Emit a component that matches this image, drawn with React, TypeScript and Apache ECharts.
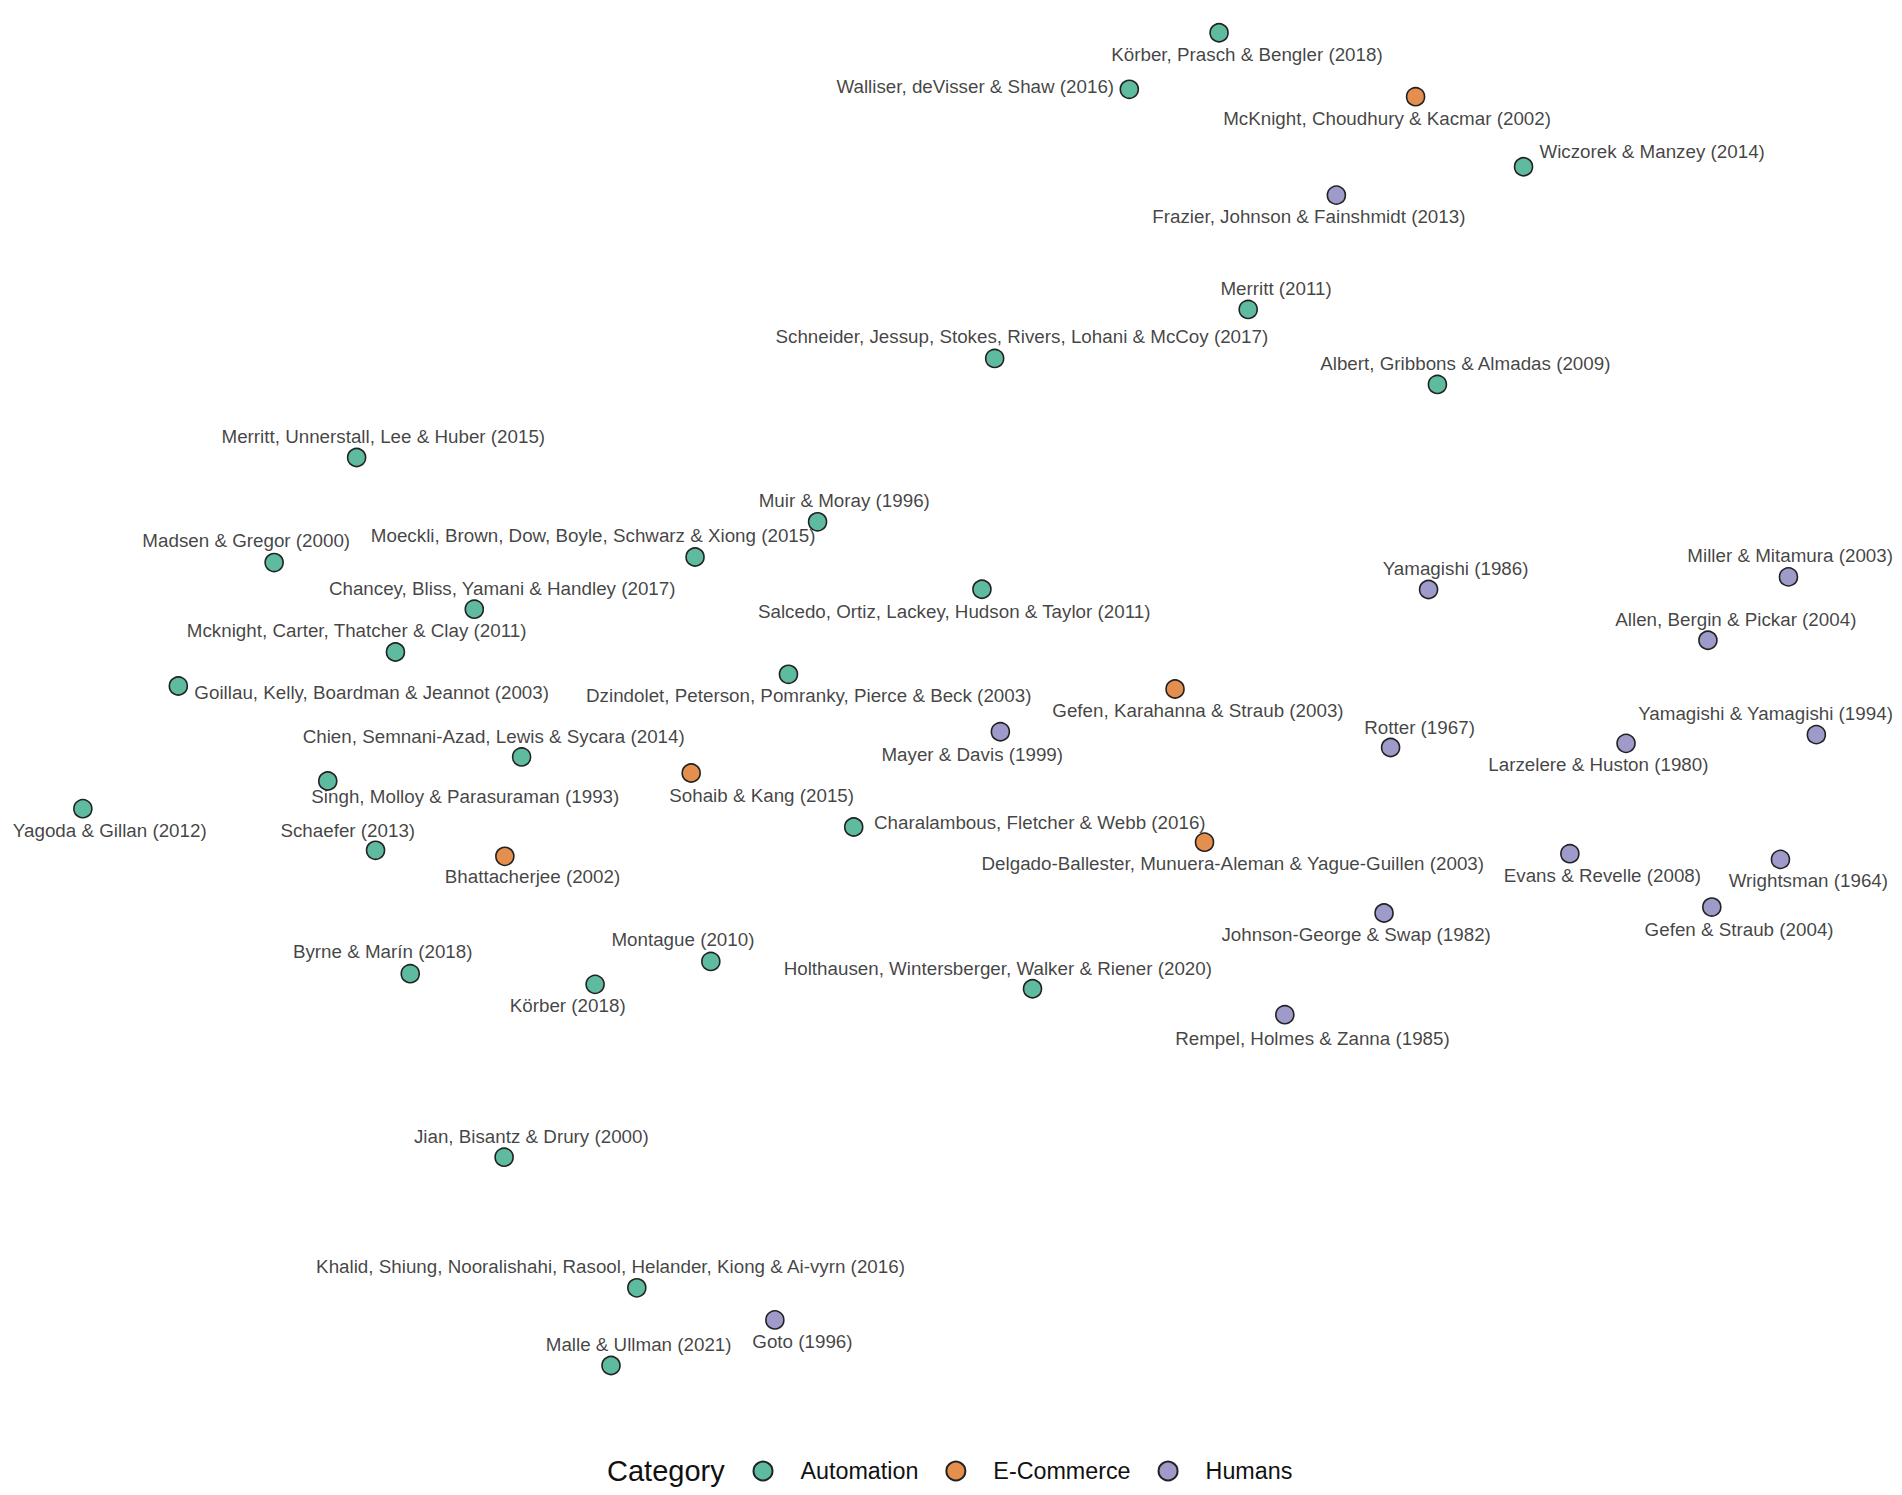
import React, { useEffect, useRef } from "react";
import * as echarts from "echarts";

// Study names (labels)
const names: string[] = [
  "Körber, Prasch & Bengler (2018)",
  "Walliser, deVisser & Shaw (2016)",
  "McKnight, Choudhury & Kacmar (2002)",
  "Wiczorek & Manzey (2014)",
  "Frazier, Johnson & Fainshmidt (2013)",
  "Merritt (2011)",
  "Schneider, Jessup, Stokes, Rivers, Lohani & McCoy (2017)",
  "Albert, Gribbons & Almadas (2009)",
  "Merritt, Unnerstall, Lee & Huber (2015)",
  "Muir & Moray (1996)",
  "Madsen & Gregor (2000)",
  "Moeckli, Brown, Dow, Boyle, Schwarz & Xiong (2015)",
  "Chancey, Bliss, Yamani & Handley (2017)",
  "Salcedo, Ortiz, Lackey, Hudson & Taylor (2011)",
  "Yamagishi (1986)",
  "Miller & Mitamura (2003)",
  "Mcknight, Carter, Thatcher & Clay (2011)",
  "Allen, Bergin & Pickar (2004)",
  "Goillau, Kelly, Boardman & Jeannot (2003)",
  "Dzindolet, Peterson, Pomranky, Pierce & Beck (2003)",
  "Gefen, Karahanna & Straub (2003)",
  "Chien, Semnani-Azad, Lewis & Sycara (2014)",
  "Mayer & Davis (1999)",
  "Rotter (1967)",
  "Yamagishi & Yamagishi (1994)",
  "Larzelere & Huston (1980)",
  "Singh, Molloy & Parasuraman (1993)",
  "Sohaib & Kang (2015)",
  "Yagoda & Gillan (2012)",
  "Schaefer (2013)",
  "Charalambous, Fletcher & Webb (2016)",
  "Bhattacherjee (2002)",
  "Delgado-Ballester, Munuera-Aleman & Yague-Guillen (2003)",
  "Evans & Revelle (2008)",
  "Wrightsman (1964)",
  "Gefen & Straub (2004)",
  "Johnson-George & Swap (1982)",
  "Byrne & Marín (2018)",
  "Montague (2010)",
  "Körber (2018)",
  "Holthausen, Wintersberger, Walker & Riener (2020)",
  "Rempel, Holmes & Zanna (1985)",
  "Jian, Bisantz & Drury (2000)",
  "Khalid, Shiung, Nooralishahi, Rasool, Helander, Kiong & Ai-vyrn (2016)",
  "Goto (1996)",
  "Malle & Ullman (2021)",
];

// Category of each study
const categories: string[] = ["Automation", "E-Commerce", "Humans"];
const category: string[] = [
  "Automation", "Automation", "E-Commerce", "Automation", "Humans",
  "Automation", "Automation", "Automation", "Automation", "Automation",
  "Automation", "Automation", "Automation", "Automation", "Humans",
  "Humans", "Automation", "Humans", "Automation", "Automation",
  "E-Commerce", "Automation", "Humans", "Humans", "Humans",
  "Humans", "Automation", "E-Commerce", "Automation", "Automation",
  "Automation", "E-Commerce", "E-Commerce", "Humans", "Humans",
  "Humans", "Humans", "Automation", "Automation", "Automation",
  "Automation", "Humans", "Automation", "Automation", "Humans",
  "Automation",
];

// Map coordinates (dimension 1 / dimension 2) of the points
const dim1: number[] = [
  1005, 931, 1167, 1256, 1101.7, 1029, 820, 1185, 294, 674,
  226, 573, 391, 809.5, 1177.7, 1474.4, 326, 1408, 147, 650,
  968.7, 430, 824.7, 1146.4, 1497.4, 1340.5, 270.2, 569.8, 68.3, 309.6,
  703.8, 416.2, 993, 1294.2, 1467.8, 1411.2, 1141, 338.2, 586, 490.6,
  851.2, 1059.2, 415.6, 525, 638.8, 503.7,
];
const dim2: number[] = [
  27, 73.6, 79.7, 137.4, 160.8, 255, 295.4, 316.8, 377, 430,
  463.6, 459, 502, 485.6, 485.8, 475.4, 537.3, 527.6, 565.3, 555.7,
  567.8, 623.8, 603, 616, 605.4, 612.6, 643.6, 637, 666.4, 700.7,
  681.5, 705.7, 694, 703.5, 708.2, 747.5, 752.4, 802.4, 792.3, 811.2,
  814.8, 836.2, 953.6, 1061.3, 1087.7, 1125.3,
];

// Repelled label anchor coordinates (same units)
const labelDim1: number[] = [
  1028, 804, 1143.5, 1362, 1079, 1052, 842.4, 1208, 316, 696,
  203, 489, 414, 786.6, 1200, 1475.8, 294, 1431, 306.4, 666.7,
  987.6, 407, 801.5, 1170.3, 1455.5, 1317.7, 383.6, 627.9, 90.5, 286.7,
  857.2, 439, 1016.3, 1321, 1490.8, 1433.7, 1118, 315.5, 563, 468,
  822.6, 1082, 438, 503.3, 661.5, 526.5,
];
const labelDim2: number[] = [
  45, 71.6, 98, 125.2, 178.2, 238, 277.6, 299.6, 359.6, 412.6,
  445.6, 441.6, 485.2, 504.3, 468.6, 458, 519.6, 510.2, 570.4, 573.4,
  585.8, 607, 622, 599.2, 588, 630.3, 656.4, 655.6, 684, 684,
  677.6, 722.6, 712, 721.6, 726, 765.7, 770.4, 784.2, 774.6, 828.4,
  798, 855.6, 936.6, 1043.3, 1105.7, 1107.6,
];

const colors: Record<string, string> = {
  Automation: "#5FBBA0",
  "E-Commerce": "#E48F4E",
  Humans: "#9E9BCA",
};

const FONT = '"Liberation Sans", Arial, Helvetica, sans-serif';

export default function App() {
  const ref = useRef<HTMLDivElement>(null);

  useEffect(() => {
    document.body.style.margin = "0";
    if (!ref.current) return;
    const chart = echarts.init(ref.current, undefined, { renderer: "svg" });

    const pointSeries = categories.map((cat) => ({
      name: cat,
      type: "scatter",
      symbol: "circle",
      symbolSize: 18,
      z: 2,
      itemStyle: {
        color: colors[cat],
        borderColor: "#222222",
        borderWidth: 1.6,
        opacity: 1,
      },
      emphasis: { disabled: true },
      data: names
        .map((n, i) => ({ i, n }))
        .filter((d) => category[d.i] === cat)
        .map((d) => ({ name: d.n, value: [dim1[d.i], dim2[d.i]] })),
    }));

    const labelSeries = {
      name: "labels",
      type: "scatter",
      symbol: "circle",
      symbolSize: 2,
      silent: true,
      z: 3,
      itemStyle: { color: "rgba(0,0,0,0)", borderWidth: 0 },
      emphasis: { disabled: true },
      labelLayout: { hideOverlap: false },
      label: {
        show: true,
        position: "inside",
        formatter: "{b}",
        fontFamily: FONT,
        fontSize: 18.8,
        color: "#111111",
        align: "center",
        verticalAlign: "middle",
      },
      data: names.map((n, i) => ({ name: n, value: [labelDim1[i], labelDim2[i]] })),
    };

    chart.setOption({
      animation: false,
      backgroundColor: "#ffffff",
      grid: { left: 0, right: 0, top: 0, bottom: 0 },
      xAxis: {
        type: "value",
        min: 0,
        max: 1568,
        show: false,
      },
      yAxis: {
        type: "value",
        min: 0,
        max: 1232,
        inverse: true,
        show: false,
      },
      legend: {
        data: categories,
        left: 752.5,
        top: 1459,
        padding: 0,
        itemWidth: 19,
        itemHeight: 19,
        itemGap: 27,
        icon: "circle",
        selectedMode: false,
        textStyle: {
          fontFamily: FONT,
          fontSize: 23.3,
          color: "#111111",
          lineHeight: 24,
          padding: [0, 0, 0, 23],
        },
      },
      graphic: [
        {
          type: "text",
          x: 607,
          y: 1471,
          style: {
            text: "Category",
            fontFamily: FONT,
            fontSize: 29,
            fill: "#111111",
            align: "left",
            verticalAlign: "middle",
          },
        },
      ],
      series: [...pointSeries, labelSeries],
    });

    return () => chart.dispose();
  }, []);

  return <div ref={ref} style={{ width: 1902, height: 1495 }} />;
}
